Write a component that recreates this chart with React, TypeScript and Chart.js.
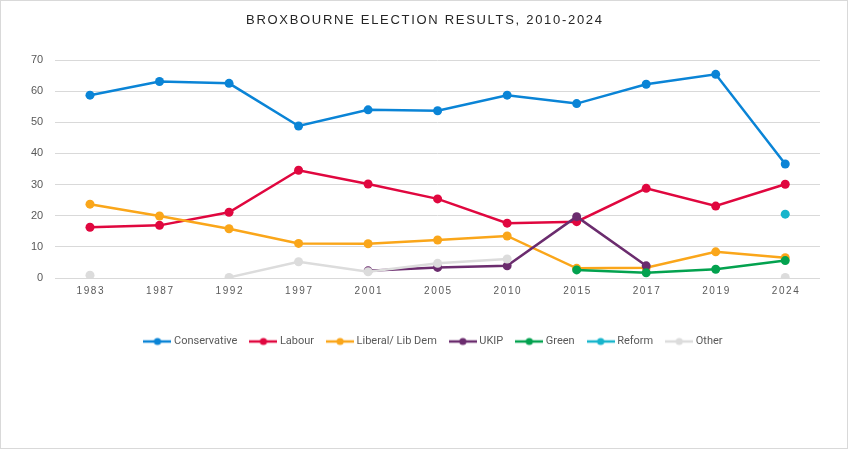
import React, { useEffect, useRef } from "react";
import { Chart, registerables } from "chart.js";

Chart.register(...registerables);

const years = ["1983", "1987", "1992", "1997", "2001", "2005", "2010", "2015", "2017", "2019", "2024"];

const conservative = [58.7, 63.1, 62.5, 48.8, 54.0, 53.7, 58.7, 56.0, 62.2, 65.4, 36.6];
const labour = [16.3, 16.9, 21.1, 34.6, 30.2, 25.4, 17.6, 18.1, 28.8, 23.1, 30.1];
const libDem = [23.7, 19.9, 15.8, 11.1, 11.0, 12.2, 13.5, 3.1, 3.3, 8.4, 6.5];
const ukip = [null, null, null, null, 2.3, 3.4, 3.9, 19.7, 3.9, null, null];
const green = [null, null, null, null, null, null, null, 2.6, 1.7, 2.8, 5.6];
const reform = [null, null, null, null, null, null, null, null, null, null, 20.5];
const other = [0.9, null, 0.2, 5.2, 2.0, 4.7, 6.1, null, null, null, 0.2];

const yTicks = [0, 10, 20, 30, 40, 50, 60, 70];

const title = "BROXBOURNE ELECTION RESULTS, 2010-2024";

const series = [
  { label: "Conservative", data: conservative, color: "#0A84D6" },
  { label: "Labour", data: labour, color: "#E0073F" },
  { label: "Liberal/ Lib Dem", data: libDem, color: "#FAA61A" },
  { label: "UKIP", data: ukip, color: "#6B2C6E" },
  { label: "Green", data: green, color: "#03A24F" },
  { label: "Reform", data: reform, color: "#17B5CC" },
  { label: "Other", data: other, color: "#DCDCDC" },
];

// little line-with-dot marker for the legend
function legendMarker(color: string) {
  const c = document.createElement("canvas");
  c.width = 28;
  c.height = 10;
  const g = c.getContext("2d")!;
  g.strokeStyle = color;
  g.lineWidth = 2.5;
  g.beginPath();
  g.moveTo(0, 5);
  g.lineTo(28, 5);
  g.stroke();
  g.fillStyle = color;
  g.beginPath();
  g.arc(14, 5, 3.6, 0, Math.PI * 2);
  g.fill();
  return c;
}

const spacedText = {
  id: "spacedText",
  afterLayout(chart: any) {
    // the original legend sits a bit right of centre
    if (chart.legend) {
      chart.legend.left += 15;
      chart.legend.right += 15;
    }
  },
  afterDraw(chart: any) {
    const ctx = chart.ctx as CanvasRenderingContext2D;
    const xScale = chart.scales.x;
    ctx.save();
    ctx.textAlign = "center";
    ctx.textBaseline = "middle";

    (ctx as any).letterSpacing = "1.6px";
    ctx.font = "10px 'Liberation Sans', Arial, sans-serif";
    ctx.fillStyle = "#595959";
    years.forEach((y, i) => {
      ctx.fillText(y, xScale.getPixelForValue(i) + 0.8, chart.chartArea.bottom + 13);
    });

    (ctx as any).letterSpacing = "1.7px";
    ctx.font = "13px 'Liberation Sans', Arial, sans-serif";
    ctx.fillStyle = "#262626";
    ctx.fillText(title, chart.width / 2 + 0.85, 19);
    ctx.restore();
  },
};

const App = () => {
  const canvasRef = useRef<HTMLCanvasElement | null>(null);

  useEffect(() => {
    if (!canvasRef.current) return;
    const markers = series.map((s) => legendMarker(s.color));

    const chart = new Chart(canvasRef.current, {
      type: "line",
      data: {
        labels: years,
        datasets: series.map((s, i) => ({
          label: s.label,
          data: s.data,
          borderColor: s.color,
          backgroundColor: s.color,
          pointBackgroundColor: s.color,
          pointBorderColor: s.color,
          borderWidth: 2.5,
          pointRadius: 4.5,
          pointBorderWidth: 0,
          tension: 0,
          spanGaps: false,
          order: -i,
        })),
      },
      options: {
        animation: false,
        responsive: true,
        maintainAspectRatio: false,
        layout: { padding: { top: 59, left: 18, right: 27, bottom: 91 } },
        plugins: {
          title: { display: false },
          tooltip: { enabled: false },
          legend: {
            position: "bottom",
            labels: {
              usePointStyle: true,
              pointStyleWidth: 22,
              padding: 15,
              color: "#595959",
              font: { family: "'Liberation Sans Narrow', Roboto, sans-serif", size: 11 },
              generateLabels: (c: any) =>
                c.data.datasets.map((d: any, i: number) => ({
                  text: d.label,
                  pointStyle: markers[i],
                  fillStyle: d.borderColor,
                  strokeStyle: d.borderColor,
                  lineWidth: 0,
                  hidden: false,
                  datasetIndex: i,
                  fontColor: "#595959",
                })),
            },
          },
        },
        scales: {
          x: {
            offset: true,
            grid: { display: false },
            border: { display: false },
            ticks: { display: false },
            afterFit: (scale: any) => {
              scale.height = 43;
            },
          },
          y: {
            min: 0,
            max: 70,
            afterBuildTicks: (scale: any) => {
              scale.ticks = yTicks.map((v) => ({ value: v }));
            },
            grid: { color: "#D9D9D9", drawTicks: false, lineWidth: 1 },
            border: { display: false },
            ticks: {
              padding: 12,
              color: "#595959",
              font: { family: "'Liberation Sans', Arial, sans-serif", size: 11 },
            },
          },
        },
      },
      plugins: [spacedText],
    });

    return () => {
      chart.destroy();
    };
  }, []);

  return (
    <div
      style={{
        position: "fixed",
        left: 0,
        top: 0,
        width: 848,
        height: 449,
        boxSizing: "border-box",
        border: "1px solid #D9D9D9",
        background: "#fff",
      }}
    >
      <canvas ref={canvasRef} />
    </div>
  );
};

export default App;
